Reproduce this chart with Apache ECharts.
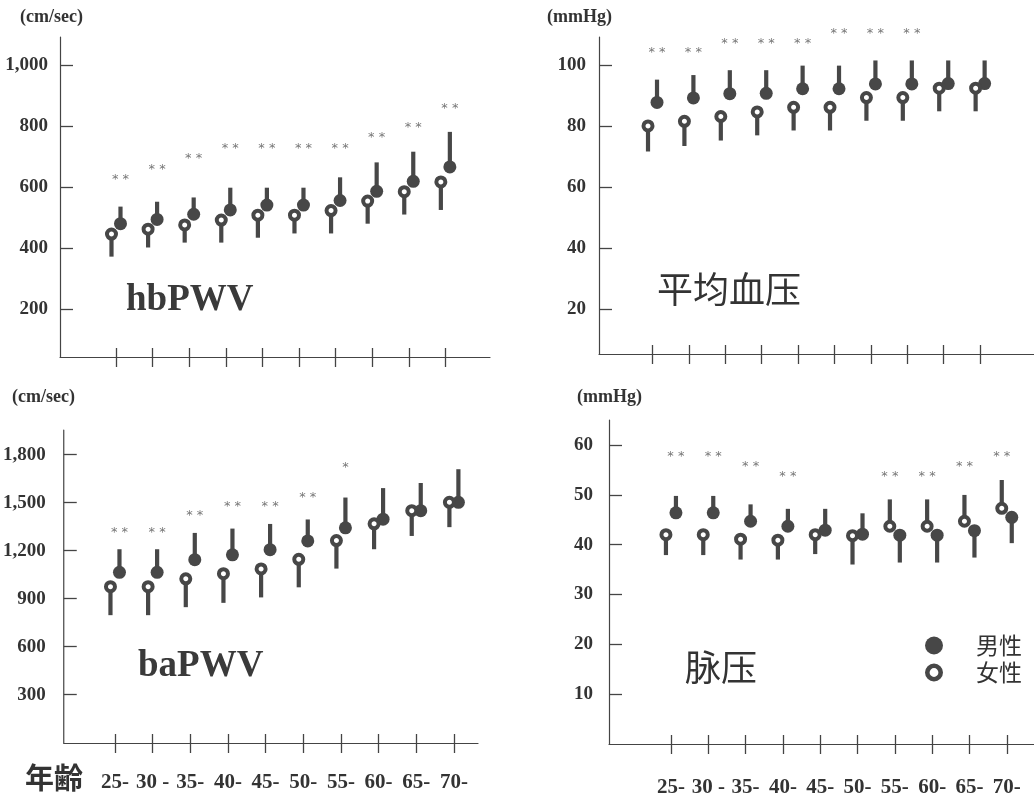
<!DOCTYPE html>
<html><head><meta charset="utf-8">
<script src="https://cdn.jsdelivr.net/npm/echarts@6/dist/echarts.min.js"></script>
<style>html,body{margin:0;padding:0;background:#fff}#c{width:1034px;height:799px}</style>
</head><body><div id="c"></div>
<script>
// ---- data ----
const ages = ['25-','30 -','35-','40-','45-','50-','55-','60-','65-','70-'];
const catIdx = [0,1,2,3,4,5,6,7,8,9];

// hbPWV (cm/sec)
const hbTicks = [200,400,600,800,1000];
const hbF    = [447,463,477,493,509,509,524,555,586,618];
const hbFErr = [373,403,419,419,435,449,449,481,511,526];
const hbM    = [481,495,512,526,542,542,557,587,620,667];
const hbMErr = [537,553,567,599,599,599,633,682,717,782];
const hbSig  = ['**','**','**','**','**','**','**','**','**','**'];
const hbSigY = [624,659,694,727,727,727,727,762,796,858];

// 平均血压 (mmHg)
const mbpTicks = [20,40,60,80,100];
const mbpF    = [80.1,81.6,83.2,84.7,86.2,86.2,89.4,89.4,92.5,92.5];
const mbpFErr = [71.7,73.5,75.3,77.0,78.6,78.6,81.8,81.8,84.9,84.9];
const mbpM    = [87.8,89.3,90.7,90.8,92.3,92.3,93.9,93.9,94.0,94.0];
const mbpMErr = [95.3,96.8,98.4,98.4,99.9,99.9,101.6,101.6,101.6,101.6];
const mbpSig  = ['**','**','**','**','**','**','**','**','',''];
const mbpSigY = [104.2,104.2,107.2,107.2,107.2,110.3,110.3,110.3,null,null];

// baPWV (cm/sec)
const baTicks = [300,600,900,1200,1500,1800];
const baF    = [975,975,1024,1056,1086,1146,1263,1368,1450,1502];
const baFErr = [797,797,847,874,908,971,1088,1209,1292,1347];
const baM    = [1065,1065,1144,1174,1206,1261,1343,1397,1450,1502];
const baMErr = [1209,1209,1311,1338,1367,1395,1532,1591,1623,1709];
const baSig  = ['**','**','**','**','**','**','*','','',''];
const baSigY = [1311,1311,1420,1473,1473,1534,1719,null,null,null];

// 脉压 (mmHg)
const ppTicks = [10,20,30,40,50,60];
const ppF    = [42.0,42.0,41.1,40.9,42.0,41.8,43.7,43.7,44.7,47.3];
const ppFErr = [37.9,37.9,37.0,37.0,38.1,36.0,49.1,49.1,50.0,53.0];
const ppM    = [46.4,46.4,44.7,43.7,42.9,42.1,41.9,41.9,42.8,45.5];
const ppMErr = [49.8,49.8,48.1,47.2,47.2,46.3,36.4,36.4,37.4,40.3];
const ppSig  = ['**','**','**','**','','','**','**','**','**'];
const ppSigY = [57.7,57.7,55.7,53.6,null,null,53.6,53.6,55.7,57.7];

// ---- style / layout ----
const SERIF = '"Liberation Serif","Times New Roman",serif';
const CJK = '"Noto Sans CJK SC","Noto Sans CJK JP",sans-serif';
const INK = '#333';
const MARK = '#474747';
const AXIS = '#444';

const panels = [
  {grid:{left:60,top:37,width:430,height:320}, x:[-1.53,10.22], y:[44,1093], ticks:hbTicks,
   F:hbF, FE:hbFErr, M:hbM, ME:hbMErr, sig:hbSig, sigY:hbSigY, dxF:-4.5, dxM:4.5, yMargin:12, labels:false},
  {grid:{left:599,top:37,width:435,height:317}, x:[-1.47,10.48], y:[5.2,109.3], ticks:mbpTicks,
   F:mbpF, FE:mbpFErr, M:mbpM, ME:mbpMErr, sig:mbpSig, sigY:mbpSigY, dxF:-4.5, dxM:4.5, yMargin:13, labels:false},
  {grid:{left:61,top:430,width:417,height:313}, x:[-1.36,9.64], y:[-1.7,1954], ticks:baTicks,
   F:baF, FE:baFErr, M:baM, ME:baMErr, sig:baSig, sigY:baSigY, dxF:-4.5, dxM:4.5, yMargin:18, labels:true, labelMargin:29},
  {grid:{left:609,top:420,width:425,height:324}, x:[-1.66,9.73], y:[-0.1,65.07], ticks:ppTicks,
   F:ppF, FE:ppFErr, M:ppM, ME:ppMErr, sig:ppSig, sigY:ppSigY, dxF:-5, dxM:5, yMargin:16, labels:true, labelMargin:33}
];

const grids = [], xAxes = [], yAxes = [], series = [];

function barRender(dx){
  return function(params, api){
    const a = api.coord([api.value(0), api.value(1)]);
    const b = api.coord([api.value(0), api.value(2)]);
    return {type:'line', shape:{x1:a[0]+dx, y1:a[1], x2:b[0]+dx, y2:b[1]},
            style:{stroke:MARK, lineWidth:4.2, lineCap:'butt'}};
  };
}

panels.forEach((p, k) => {
  grids.push(Object.assign({containLabel:false}, p.grid));
  xAxes.push({
    type:'value', gridIndex:k, min:p.x[0], max:p.x[1], position:'bottom',
    axisLine:{show:true, onZero:false, lineStyle:{color:AXIS, width:1.2}},
    axisTick:{show:true, inside:true, length:9, customValues:catIdx, lineStyle:{color:AXIS, width:1.3}},
    axisLabel:{show:p.labels, customValues:catIdx, formatter:v => ages[Math.round(v)],
               margin:p.labelMargin||8, fontSize:21, fontWeight:'bold', fontFamily:SERIF, color:INK},
    splitLine:{show:false}
  });
  xAxes.push({
    type:'value', gridIndex:k, min:p.x[0], max:p.x[1], position:'bottom', offset:0,
    axisLine:{show:false, onZero:false},
    axisTick:{show:true, inside:false, length:10, customValues:catIdx, lineStyle:{color:AXIS, width:1.3}},
    axisLabel:{show:false}, splitLine:{show:false}
  });
  yAxes.push({
    type:'value', gridIndex:k, min:p.y[0], max:p.y[1],
    axisLine:{show:true, onZero:false, lineStyle:{color:AXIS, width:1.2}},
    axisTick:{show:true, inside:true, length:13, customValues:p.ticks, lineStyle:{color:AXIS, width:1.3}},
    axisLabel:{customValues:p.ticks, formatter:v => Number(v).toLocaleString('en-US'),
               margin:p.yMargin, fontSize:19, fontWeight:'bold', fontFamily:SERIF, color:INK},
    splitLine:{show:false}
  });
  const xi = 2*k, yi = k;
  series.push({type:'custom', xAxisIndex:xi, yAxisIndex:yi, silent:true, z:2,
    data:p.F.map((v,i)=>[i, v, p.FE[i]]), renderItem:barRender(p.dxF)});
  series.push({type:'custom', xAxisIndex:xi, yAxisIndex:yi, silent:true, z:2,
    data:p.M.map((v,i)=>[i, v, p.ME[i]]), renderItem:barRender(p.dxM)});
  series.push({type:'scatter', name:'男性', xAxisIndex:xi, yAxisIndex:yi, z:3, silent:true,
    data:p.M.map((v,i)=>[i, v]), symbol:'circle', symbolSize:13, symbolOffset:[p.dxM,0],
    itemStyle:{color:MARK, opacity:1}});
  series.push({type:'scatter', name:'女性', xAxisIndex:xi, yAxisIndex:yi, z:4, silent:true,
    data:p.F.map((v,i)=>[i, v]), symbol:'circle', symbolSize:9, symbolOffset:[p.dxF,0],
    itemStyle:{color:'#fff', borderColor:MARK, borderWidth:4, opacity:1}});
  const sData = [], sText = [], sDx = [];
  p.sig.forEach((s,i) => {
    if (s) {
      sData.push([i, p.sigY[i]]);
      sText.push(s);
      const upM = (p.ME[i] - p.M[i]) >= (p.FE[i] - p.F[i]);
      sDx.push(upM ? p.dxM : p.dxF);
    }
  });
  series.push({type:'custom', xAxisIndex:xi, yAxisIndex:yi, silent:true, z:5, clip:false,
    data:sData,
    renderItem:function(params, api){
      const c = api.coord([api.value(0), api.value(1)]);
      return {type:'text', x:c[0]+sDx[params.dataIndex], y:c[1],
        style:{text:sText[params.dataIndex].split('').join(' '), fill:'#777', fontSize:13,
               fontFamily:'"DejaVu Sans",sans-serif', align:'center', verticalAlign:'middle'}};
    }});
});

const ring = 'path://M9 0A9 9 0 1 1 9 18A9 9 0 1 1 9 0ZM9 4.6A4.4 4.4 0 1 0 9 13.4A4.4 4.4 0 1 0 9 4.6Z';

function txt(x, y, text, font, fill, align){
  return {type:'text', x:x, y:y, silent:true,
    style:{text:text, font:font, fill:fill||INK, align:align||'left', verticalAlign:'middle'}};
}

const option = {
  backgroundColor:'#fff',
  animation:false,
  grid:grids, xAxis:xAxes, yAxis:yAxes, series:series,
  legend:{orient:'vertical', left:920, top:629, itemWidth:18, itemHeight:18, itemGap:4,
    selectedMode:false,
    data:[{name:'男性', icon:'circle', itemStyle:{color:MARK, borderWidth:0}},
          {name:'女性', icon:ring, itemStyle:{color:MARK, borderWidth:0}}],
    textStyle:{fontSize:23, color:INK, fontFamily:CJK, padding:[0,0,0,28]}},
  graphic:[
    txt(20, 17, '(cm/sec)', 'bold 18px ' + SERIF),
    txt(547, 17, '(mmHg)', 'bold 18px ' + SERIF),
    txt(12, 397, '(cm/sec)', 'bold 18px ' + SERIF),
    txt(577, 397, '(mmHg)', 'bold 18px ' + SERIF),
    txt(126, 300, 'hbPWV', 'bold 37px ' + SERIF, '#3a3a3a'),
    txt(138, 666, 'baPWV', 'bold 37px ' + SERIF, '#3a3a3a'),
    txt(657, 289, '平均血压', '36px ' + CJK, '#333'),
    txt(685, 667, '脉压', '36px ' + CJK, '#333'),
    txt(25, 778, '年齢', 'bold 29px "Noto Sans CJK JP",sans-serif', '#333')
  ]
};

const chart = echarts.init(document.getElementById('c'), null, {renderer:'canvas'});
chart.setOption(option);
</script>
</body></html>
